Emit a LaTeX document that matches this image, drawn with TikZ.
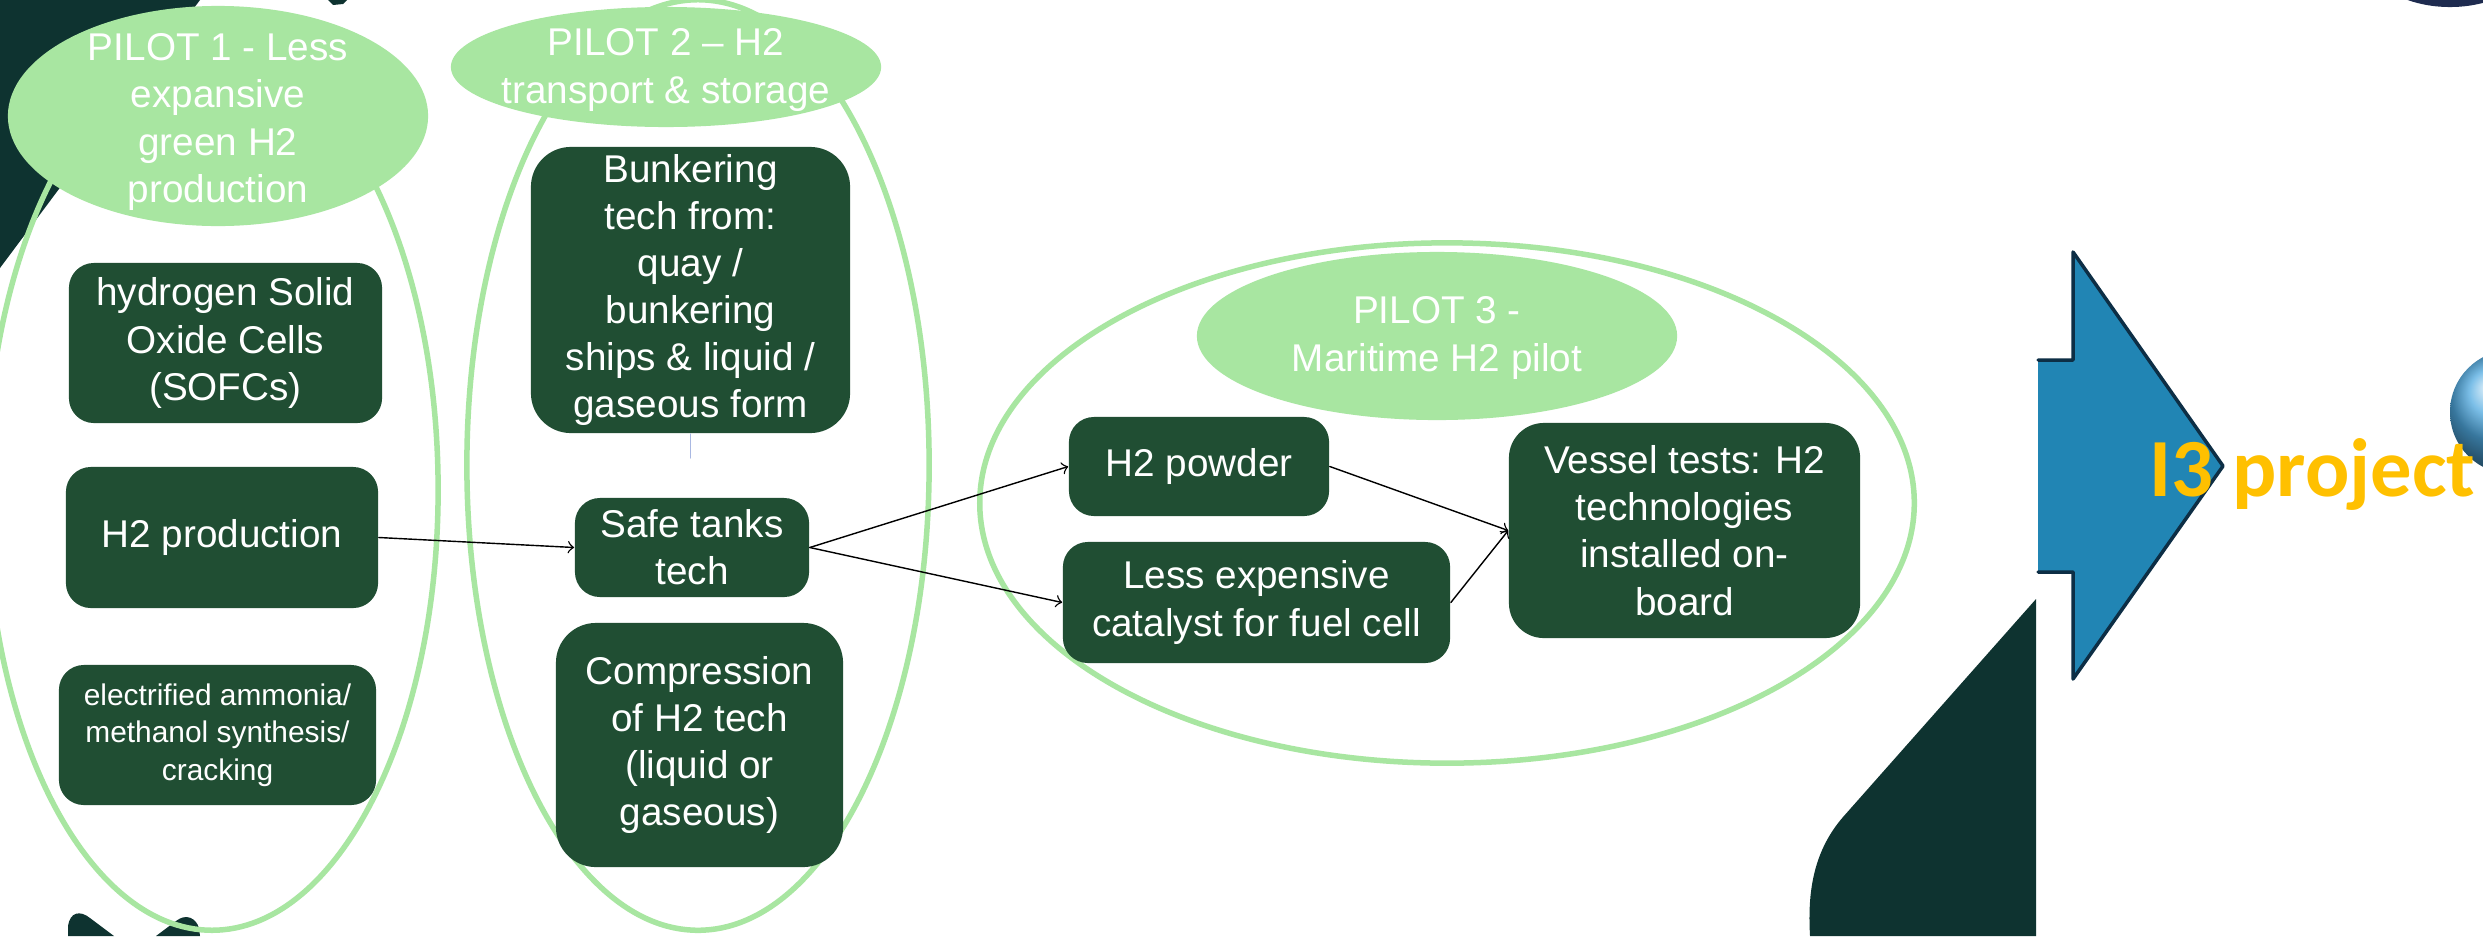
\documentclass[tikz,border=0pt]{standalone}
\usepackage{fontspec}
\setmainfont{Liberation Sans}
\newfontfamily\calfont{Carlito}
\usetikzlibrary{arrows}
\definecolor{pilotgreen}{HTML}{A8E6A1}
\definecolor{boxgreen}{HTML}{204E33}
\definecolor{darkteal}{HTML}{0E3330}
\definecolor{arrowblue}{HTML}{2185B4}
\definecolor{arrowline}{HTML}{0D2E45}
\definecolor{topnavy}{HTML}{1E2B4F}
\definecolor{ithree}{HTML}{FFC000}
\definecolor{sphereblue}{HTML}{4FA9E0}
\definecolor{stubblue}{HTML}{A9B8E2}

\begin{document}
\begin{tikzpicture}[line cap=round,line join=round,>=to,x=0.01cm,y=-0.01cm,
    techbox/.style={fill=boxgreen,text=white,rounded corners=2.5mm,align=center,inner sep=0pt,font=\fontsize{11}{13.4}\selectfont},
    pilottext/.style={text=white,align=center,inner sep=0pt,font=\fontsize{11}{13.4}\selectfont},
    pilotring/.style={draw=pilotgreen,line width=0.55mm},
    flow/.style={->,color=black,line width=0.4pt}]
      \useasboundingbox (0,0) rectangle (2483,936);
      \fill[white] (0,0) rectangle (2483,936);
      \clip (0,0) rectangle (2483,936);
      \fill[darkteal] (0,0) -- (200,0) -- (0,268) -- cycle;
      \fill[darkteal] (328,0) -- (347,0) -- (343,4) -- (333,5) -- cycle;
      \fill[darkteal] (68,936) -- (68,926) .. controls (70,912) and (80,910) .. (90,918) -- (114,936) -- cycle;
      \fill[darkteal] (156,936) -- (176,921) .. controls (186,913) and (196,918) .. (199,928) -- (200,936) -- cycle;
      \fill[darkteal] (2036,599) -- (1843,817) .. controls (1810,855) and (1808,900) .. (1810,936) -- (2036,936) -- cycle;
      \fill[topnavy] (2450,-60) ellipse [x radius=0.95cm, y radius=0.67cm];
      \draw[pilotring] (212,490) ellipse [x radius=2.26cm, y radius=4.4cm];
      \draw[pilotring] (698,465) ellipse [x radius=2.31cm, y radius=4.65cm];
      \draw[pilotring] (1447,503) ellipse [x radius=4.67cm, y radius=2.6cm];
      \fill[pilotgreen] (218,116) ellipse [x radius=2.1cm, y radius=1.1cm];
      \fill[pilotgreen] (666,67) ellipse [x radius=2.15cm, y radius=0.6cm];
      \fill[pilotgreen] (1437,336) ellipse [x radius=2.4cm, y radius=0.84cm];
      \node[pilottext] (pilot1) at (218,122) {PILOT 1 - Less\\expansive\\green H2\\production};
      \node[pilottext] (pilot2) at (666,70) {PILOT 2 -- H2\\transport \& storage};
      \node[pilottext] (pilot3) at (1437,338) {PILOT 3 -\\Maritime H2 pilot};
      \node[techbox,minimum width=3.13cm,minimum height=1.6cm] (sofc) at (225.5,343) {hydrogen Solid\\Oxide Cells\\(SOFCs)};
      \node[techbox,minimum width=3.12cm,minimum height=1.41cm] (prod) at (222,537.5) {H2 production};
      \node[techbox,minimum width=3.17cm,minimum height=1.4cm,font=\fontsize{8.5}{10.6}\selectfont] (ammonia) at (217.5,735) {electrified ammonia/\\methanol synthesis/\\cracking};
      \node[techbox,rounded corners=4mm,minimum width=3.19cm,minimum height=2.86cm] (bunker) at (690.5,290) {Bunkering\\tech from:\\quay /\\bunkering\\ships \& liquid /\\gaseous form};
      \node[techbox,minimum width=2.34cm,minimum height=0.99cm] (tanks) at (692,547.5) {Safe tanks\\tech};
      \node[techbox,rounded corners=4mm,minimum width=2.87cm,minimum height=2.44cm] (compr) at (699.5,745) {Compression\\of H2 tech\\(liquid or\\gaseous)};
      \node[techbox,minimum width=2.6cm,minimum height=0.99cm] (powder) at (1199,466.5) {H2 powder};
      \node[techbox,minimum width=3.87cm,minimum height=1.21cm] (catal) at (1256.5,602.5) {Less expensive\\catalyst for fuel cell};
      \node[techbox,rounded corners=3.5mm,minimum width=3.51cm,minimum height=2.15cm] (vessel) at (1684.5,530.5) {Vessel tests: H2\\technologies\\installed on-\\board};
      \coordinate (stub) at (690.5,458);
      \draw[color=stubblue,line width=0.3pt] (bunker.south) -- (stub);
      \draw[flow] (prod.east) -- (tanks.west);
      \draw[flow] (tanks.east) -- (powder.west);
      \draw[flow] (tanks.east) -- (catal.west);
      \draw[flow] (powder.east) -- (vessel.west);
      \draw[flow] (catal.east) -- (vessel.west);
      \shade[ball color=sphereblue] (2512,412) circle (0.62cm);
      \fill[arrowblue] (2038,360) -- (2073,360) -- (2073,252) -- (2223,466) -- (2073,679) -- (2073,572) -- (2038,572) -- cycle;
      \draw[arrowline,line width=0.35mm] (2038,360) -- (2073,360) -- (2073,252) -- (2223,466) -- (2073,679) -- (2073,572) -- (2038,572);
      \node[anchor=base west,inner sep=0pt,text=ithree,font=\calfont\bfseries\fontsize{23.5}{28}\selectfont] (ithreeproj) at (2149,496) {I3 project};
    \end{tikzpicture}
\end{document}
